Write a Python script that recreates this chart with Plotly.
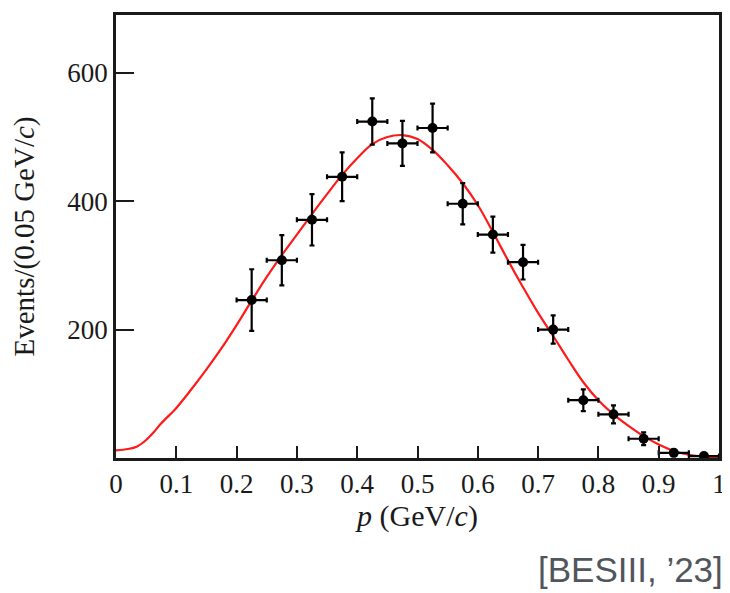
import plotly.graph_objects as go

# measured histogram (bin centres, events, stat. errors)
p_bins = [0.225, 0.275, 0.325, 0.375, 0.425, 0.475, 0.525, 0.575,
          0.625, 0.675, 0.725, 0.775, 0.825, 0.875, 0.925, 0.975]
events = [246, 308, 371, 438, 524, 490, 514, 396,
          348, 305, 200, 90, 68, 30, 8, 3]
events_err = [48, 39, 40, 38, 36, 35, 38, 32,
              28, 27, 22, 17, 14, 10, 5, 3]
bin_half = [0.025] * len(p_bins)

# fit curve
fit_p = [0.0, 0.02, 0.035, 0.05, 0.0625, 0.075, 0.1, 0.125, 0.15, 0.175,
         0.2, 0.225, 0.25, 0.275, 0.3, 0.325, 0.35, 0.375, 0.4, 0.425,
         0.45, 0.475, 0.5, 0.525, 0.55, 0.575, 0.6, 0.625, 0.65, 0.675,
         0.7, 0.725, 0.75, 0.775, 0.8, 0.825, 0.85, 0.875, 0.9, 0.925,
         0.95, 0.975, 1.0]
fit_events = [12, 14, 18, 28, 40, 54, 78, 107, 138, 171,
              207, 245, 282, 316, 348, 380, 411, 441, 467, 489,
              500, 503, 497, 480, 456, 428, 394, 352, 308, 266,
              226, 190, 153, 118, 90, 68, 50, 34, 21, 11,
              5, 2, 1]

x_ticks = [0, 0.1, 0.2, 0.3, 0.4, 0.5, 0.6, 0.7, 0.8, 0.9, 1.0]
x_ticktext = ['0', '0.1', '0.2', '0.3', '0.4', '0.5', '0.6', '0.7', '0.8', '0.9', '1']
y_ticks = [200, 400, 600]

serif = 'Liberation Serif, Times New Roman, serif'

fig = go.Figure()
fig.add_trace(go.Scatter(
    x=fit_p, y=fit_events, mode='lines',
    line=dict(color='#ff1a1a', width=2.2, shape='spline', smoothing=1.0),
    hoverinfo='skip', showlegend=False
))
fig.add_trace(go.Scatter(
    x=p_bins, y=events, mode='markers',
    marker=dict(color='black', size=10),
    error_y=dict(type='data', array=events_err, color='black', thickness=2.2, width=2.5),
    error_x=dict(type='data', array=bin_half, color='black', thickness=2.2, width=2.5),
    showlegend=False
))

# page has an 8px body margin, so the figure is sized/offset to land on the 730x593 view
fig.update_layout(
    width=722, height=585,
    margin=dict(l=108, r=9, t=4, b=135),
    paper_bgcolor='white', plot_bgcolor='white',
    font=dict(family=serif, color='#1a1a1a', size=27),
    xaxis=dict(
        range=[0, 1], tickvals=x_ticks, ticktext=x_ticktext,
        ticks='inside', ticklen=12, tickwidth=2, tickcolor='#1a1a1a',
        showline=True, linecolor='#1a1a1a', linewidth=2.5, mirror=True,
        showgrid=False, zeroline=False,
        title=dict(text='<i>p</i> (GeV/<i>c</i>)', font=dict(size=30), standoff=4)
    ),
    yaxis=dict(
        range=[0, 690], tickvals=y_ticks,
        ticks='inside', ticklen=18, tickwidth=2, tickcolor='#1a1a1a',
        showline=True, linecolor='#1a1a1a', linewidth=2.5, mirror=True,
        showgrid=False, zeroline=False,
        title=dict(text='Events/(0.05 GeV/<i>c</i>)', font=dict(size=29), standoff=26)
    ),
    annotations=[dict(
        text='[BESIII, \u201923]', xref='paper', yref='paper',
        x=1.0099, y=-0.251, xanchor='right', yanchor='middle', showarrow=False,
        font=dict(family='Liberation Sans, Arial, sans-serif', size=35, color='#50565c')
    )]
)

fig.write_html("out.html")
